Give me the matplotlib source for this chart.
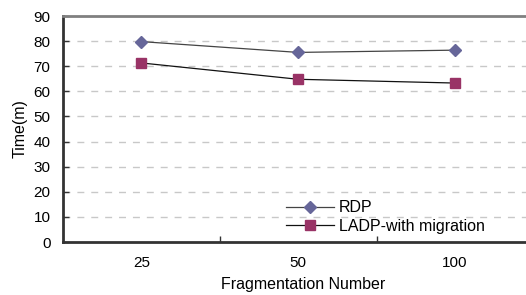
import matplotlib
matplotlib.use("Agg")
import matplotlib.pyplot as plt

categories = ["25", "50", "100"]
rdp = [79.8, 75.5, 76.4]
ladp = [71.3, 64.8, 63.3]
yticks = [0, 10, 20, 30, 40, 50, 60, 70, 80, 90]

plt.rcParams['font.family'] = ['Liberation Sans', 'DejaVu Sans']

W, H = 526, 295
fig = plt.figure(figsize=(W / 100, H / 100), dpi=100)
ax = fig.add_axes([63 / W, (H - 242) / H, (533.4 - 63) / W, (242 - 16) / H])

x = list(range(len(categories)))
ax.plot(x, rdp, color='#444444', lw=0.9, marker='D', markersize=6.5,
        markerfacecolor='#666699', markeredgecolor='#666699', label='RDP', zorder=3)
ax.plot(x, ladp, color='#111111', lw=0.9, marker='s', markersize=7.5,
        markerfacecolor='#993366', markeredgecolor='#993366', label='LADP-with migration', zorder=3)

ax.set_xlim(-0.5, 2.5)
ax.set_ylim(0, 90)
ax.set_yticks(yticks)
ax.set_yticklabels([str(v) for v in yticks], fontsize=11)
ax.set_xticks(x)
ax.set_xticklabels(categories, fontsize=11)
ax.set_xticks([0.5, 1.5], minor=True)
ax.tick_params(axis='x', which='major', length=0, pad=10)
ax.tick_params(axis='x', which='minor', length=4, direction='in', color='#333333', width=1)
ax.tick_params(axis='y', which='major', length=4, direction='in', color='#333333', width=1, pad=9)

for v in yticks[1:-1]:
    ax.axhline(v, color='#c8c8c8', lw=1, ls=(0, (5, 5)), zorder=1)

for side in ['left', 'bottom']:
    ax.spines[side].set_color('#333333')
    ax.spines[side].set_linewidth(2)
ax.spines['top'].set_color('#808080')
ax.spines['top'].set_linewidth(2)
ax.spines['right'].set_visible(False)

ax.set_ylabel('Time(m)', fontsize=11.5, labelpad=4)
ax.set_xlabel('Fragmentation Number', fontsize=11.5)
ax.xaxis.set_label_coords((303 - 63) / (533.4 - 63), -0.155)
ax.xaxis.label.set_va('top')

leg = ax.legend(loc='lower left', bbox_to_anchor=((276 - 63) / (533.4 - 63), -0.005),
                frameon=False, fontsize=11.5, handlelength=3.0, handletextpad=0.35,
                labelspacing=0.2, borderaxespad=0.2)

fig.savefig('out.png', dpi=100)
